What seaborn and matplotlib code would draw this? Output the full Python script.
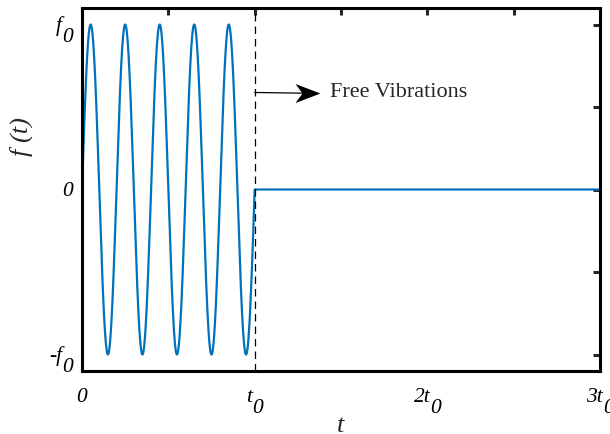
import numpy as np
import pandas as pd
import matplotlib
matplotlib.use("Agg")
import matplotlib.pyplot as plt
from matplotlib.path import Path
import seaborn as sns

# Forcing parameters: amplitude f0, duration t0, number of cycles in [0, t0]
amplitude = 1.0
t0 = 1.0
n_cycles = 5
t_end = 3.0

x_ticks = [0, 0.5, 1, 1.5, 2, 2.5, 3]
x_label_base = ["0", "", "t", "", "2t", "", "3t"]
x_label_sub = ["", "", "0", "", "0", "", "0"]
y_ticks = [-1, -0.5, 0, 0.5, 1]
y_label_base = ["-f", "", "0", "", "f"]
y_label_sub = ["0", "", "", "", "0"]

# Forced phase (sinusoid) followed by free phase (zero load)
t_forced = np.linspace(0, t0, 1001)
f_forced = amplitude * np.sin(2 * np.pi * n_cycles * t_forced / t0)
t_free = np.array([t0, t_end])
f_free = np.array([0.0, 0.0])
df = pd.DataFrame({"t": np.concatenate([t_forced, t_free]),
                   "f": np.concatenate([f_forced, f_free])})

sns.set_style("white")
plt.rcParams["font.family"] = ["Liberation Serif", "DejaVu Serif"]

fig = plt.figure(figsize=(6.1, 4.34), dpi=100)
ax = fig.add_axes([82 / 610, 63 / 434, 518 / 610, 363 / 434])

sns.lineplot(data=df, x="t", y="f", ax=ax, color="#0072BD", linewidth=1.6,
             sort=False, estimator=None)

ax.axvline(t0, color="black", linestyle=(0, (6, 4)), linewidth=0.9)

# Annotation arrow: thin shaft plus a stealth-shaped head at the tip
arrow_start = (t0, 0.588)
arrow_tip = (1.378, 0.582)
ax.annotate("", xy=(1.33, 0.583), xytext=arrow_start,
            arrowprops=dict(arrowstyle="-", color="black", linewidth=0.9,
                            shrinkA=0, shrinkB=0))
stealth = Path([(0, 0), (-1, 0.38), (-0.72, 0), (-1, -0.38), (0, 0)],
               [Path.MOVETO, Path.LINETO, Path.LINETO, Path.LINETO, Path.CLOSEPOLY])
ax.plot([arrow_tip[0]], [arrow_tip[1]], marker=stealth, markersize=36,
        color="black", markeredgewidth=0, linestyle="none")
ax.text(1.436, 0.585, "Free Vibrations", fontsize=16, va="center", ha="left")

ax.set_xlim(0, t_end)
ax.set_ylim(-1.1, 1.1)
ax.set_xticks(x_ticks)
ax.set_xticklabels([])
ax.set_yticks(y_ticks)
ax.set_yticklabels([])
ax.tick_params(direction="in", length=5, width=2.2, top=True, right=True)

for s in ax.spines.values():
    s.set_linewidth(2.2)
    s.set_color("black")

# Tick labels with full-size, lowered subscripts
tick_fs = 15.5
kw = dict(fontsize=tick_fs, fontstyle="italic", color="black",
          textcoords="offset pixels", annotation_clip=False, va="baseline")
pairs_x = []
for x, b, s in zip(x_ticks, x_label_base, x_label_sub):
    if not b:
        continue
    tb = ax.annotate(b, xy=(x, 0), xycoords=ax.get_xaxis_transform(),
                     xytext=(0, -31), ha="left", **kw)
    ts = ax.annotate(s, xy=(x, 0), xycoords=ax.get_xaxis_transform(),
                     xytext=(0, -42), ha="left", **kw) if s else None
    pairs_x.append((tb, ts))
pairs_y = []
for y, b, s in zip(y_ticks, y_label_base, y_label_sub):
    if not b:
        continue
    tb = ax.annotate(b, xy=(0, y), xycoords=ax.get_yaxis_transform(),
                     xytext=(-9, -6), ha="right", **kw)
    ts = ax.annotate(s, xy=(0, y), xycoords=ax.get_yaxis_transform(),
                     xytext=(-9, -18), ha="right", **kw) if s else None
    pairs_y.append((tb, ts))

fig.canvas.draw()
renderer = fig.canvas.get_renderer()
for tb, ts in pairs_x:
    wb = tb.get_window_extent(renderer).width
    ws = ts.get_window_extent(renderer).width if ts else 0
    total = wb + ws
    tb.xyann = (-total / 2, -31)
    if ts:
        ts.xyann = (-total / 2 + wb, -42)
for tb, ts in pairs_y:
    if ts:
        ws = ts.get_window_extent(renderer).width
        tb.xyann = (-9 - ws, -6)

ax.set_xlabel("t", fontsize=19, fontstyle="italic")
ax.xaxis.set_label_coords(0.5, -0.12)
ax.set_ylabel("f (t)", fontsize=19, fontstyle="italic")
ax.yaxis.set_label_coords(-0.095, 0.647)

fig.savefig("out.png", dpi=100)
